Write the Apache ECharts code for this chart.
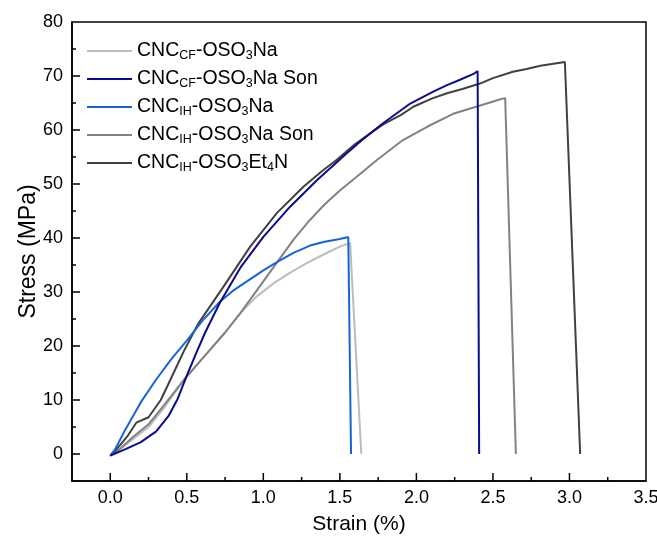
<!DOCTYPE html>
<html>
<head>
<meta charset="utf-8">
<script src="https://cdn.jsdelivr.net/npm/echarts@6/dist/echarts.min.js"></script>
<style>
html,body{margin:0;padding:0;background:#fff;}
#chart{width:657px;height:536px;}
</style>
</head>
<body>
<div id="chart"></div>
<script>
// Series names (legend labels built with rich-text subscripts)
const seriesNames = [
  'CNC_CF-OSO3Na',
  'CNC_CF-OSO3Na Son',
  'CNC_IH-OSO3Na',
  'CNC_IH-OSO3Na Son',
  'CNC_IH-OSO3Et4N'
];
const seriesColors = ['#bdbdbd', '#0b0b8f', '#1565d8', '#828282', '#404040'];

// [strain %, stress MPa]
const cfNa = [[0,-0.3],[0.05,0.6],[0.15,2.8],[0.25,5],[0.35,8.5],[0.48,13.7],[0.63,18.6],[0.75,22.5],[0.85,26.1],[0.95,29],[1.066,31.6],[1.17,33.5],[1.28,35.3],[1.39,36.9],[1.5,38.4],[1.567,39.1],[1.64,0]];
const cfNaSon = [[0,-0.3],[0.1,0.9],[0.2,2.2],[0.3,4.2],[0.38,7.0],[0.44,10.2],[0.5,14.5],[0.56,18.6],[0.62,22.5],[0.716,28],[0.85,34.5],[1.0,40.2],[1.175,45.8],[1.35,50.7],[1.545,55.7],[1.66,58.5],[1.78,61.2],[1.96,64.9],[2.11,67.1],[2.2,68.3],[2.285,69.3],[2.38,70.5],[2.40,70.9],[2.41,0]];
const ihNa = [[0,-0.3],[0.03,0.8],[0.1,4.6],[0.2,9.6],[0.3,13.8],[0.4,17.6],[0.5,21],[0.6,24.6],[0.716,28.2],[0.8,30.2],[0.91,32.3],[1.0,34],[1.1,35.7],[1.2,37.3],[1.305,38.6],[1.4,39.3],[1.5,39.8],[1.555,40.2],[1.573,0]];
const ihNaSon = [[0,-0.3],[0.05,0.6],[0.15,3.2],[0.25,5.5],[0.35,9],[0.48,13.7],[0.63,18.6],[0.75,22.5],[0.85,26.1],[0.96,30.4],[1.1,35.9],[1.2,39.8],[1.3,43.2],[1.4,46.2],[1.5,48.8],[1.63,51.8],[1.74,54.4],[1.91,58.1],[2.07,60.6],[2.24,63],[2.39,64.3],[2.56,65.8],[2.58,65.9],[2.65,0]];
const ihEt4N = [[0,-0.3],[0.03,0.5],[0.11,3.2],[0.17,5.8],[0.25,6.8],[0.33,10.0],[0.392,13.7],[0.48,19],[0.576,24.2],[0.74,31],[0.914,38.4],[1.088,44.6],[1.262,49.5],[1.38,52.3],[1.48,54.5],[1.6,57.4],[1.78,61.0],[1.9,62.8],[1.98,64.3],[2.1,65.8],[2.2,66.8],[2.3,67.6],[2.415,68.6],[2.5,69.6],[2.63,70.8],[2.72,71.3],[2.81,71.9],[2.97,72.6],[3.07,0]];
const seriesData = [cfNa, cfNaSon, ihNa, ihNaSon, ihEt4N];

// axis ranges, label step and tick positions
const xRange = [-0.25, 3.5];
const yRange = [-5, 80];
const xLabelStep = 0.5;
const yLabelStep = 10;
const xMajorTicks = [0, 0.5, 1.0, 1.5, 2.0, 2.5, 3.0];
const xMinorTicks = [0.25, 0.75, 1.25, 1.75, 2.25, 2.75, 3.25];
const yMajorTicks = [0, 10, 20, 30, 40, 50, 60, 70];
const yMinorTicks = [5, 15, 25, 35, 45, 55, 65, 75];

const FONT = '"Liberation Sans", Arial, sans-serif';

function legendRich(name) {
  const m = name.match(/^CNC_(CF|IH)-OSO3(Na|Et4N)(.*)$/);
  let s = '{n|CNC}{s|' + m[1] + '}{n|-OSO}{s|3}';
  if (m[2] === 'Et4N') s += '{n|Et}{s|4}{n|N}';
  else s += '{n|Na}';
  if (m[3]) s += '{n|' + m[3] + '}';
  return s;
}
function onStep(v, step) {
  const r = v / step;
  return Math.abs(r - Math.round(r)) < 1e-6;
}

// inward tick marks drawn through the axes' own scales
function tickSeries(values, dir, len) {
  return {
    type: 'custom', silent: true, clip: false, z: 10,
    data: values.map(v => dir === 'x' ? [v, yRange[0]] : [xRange[0], v]),
    renderItem: (params, api) => {
      const p = api.coord([api.value(0), api.value(1)]);
      const shape = dir === 'x'
        ? {x1: p[0], y1: p[1], x2: p[0], y2: p[1] - len}
        : {x1: p[0], y1: p[1], x2: p[0] + len, y2: p[1]};
      return {type: 'line', shape: shape, style: {stroke: '#000', lineWidth: 1.5}};
    }
  };
}

const chart = echarts.init(document.getElementById('chart'), null, {renderer: 'canvas'});
chart.setOption({
  animation: false,
  backgroundColor: '#fff',
  grid: {left: 72, right: 11, top: 22, bottom: 55, show: true, borderColor: '#000', borderWidth: 1.5,
         backgroundColor: 'transparent', containLabel: false, outerBoundsMode: 'none'},
  legend: {
    orient: 'vertical', left: 87, top: 41, padding: 0, itemWidth: 45, itemHeight: 10, itemGap: 6.5,
    icon: 'path://M0,4L45,4L45,6L0,6Z',
    data: seriesNames.map((n, i) => ({name: n, itemStyle: {color: seriesColors[i]}})),
    formatter: legendRich,
    textStyle: {
      fontFamily: FONT, color: '#000',
      rich: {
        n: {fontFamily: FONT, fontSize: 19.5, color: '#000', lineHeight: 23, verticalAlign: 'middle'},
        s: {fontFamily: FONT, fontSize: 12.5, color: '#000', lineHeight: 12, verticalAlign: 'bottom'}
      }
    }
  },
  xAxis: {
    type: 'value', min: xRange[0], max: xRange[1], position: 'bottom',
    minInterval: xLabelStep, maxInterval: xLabelStep, splitNumber: 7,
    name: 'Strain (%)', nameLocation: 'middle', nameGap: 33, nameMoveOverlap: false,
    nameTextStyle: {fontFamily: FONT, fontSize: 21, color: '#000'},
    axisLine: {show: true, onZero: false, lineStyle: {color: '#000', width: 1.5}},
    axisTick: {show: false},
    axisLabel: {formatter: v => onStep(v, xLabelStep) ? v.toFixed(1) : '', fontFamily: FONT, fontSize: 18, color: '#000', margin: 8},
    splitLine: {show: false}
  },
  yAxis: {
    type: 'value', min: yRange[0], max: yRange[1], position: 'left',
    minInterval: yLabelStep, maxInterval: yLabelStep, splitNumber: 8,
    name: 'Stress (MPa)', nameLocation: 'middle', nameGap: 32, nameMoveOverlap: false,
    nameTextStyle: {fontFamily: FONT, fontSize: 23, color: '#000'},
    axisLine: {show: true, onZero: false, lineStyle: {color: '#000', width: 1.5}},
    axisTick: {show: false},
    axisLabel: {formatter: v => onStep(v, yLabelStep) ? String(v) : '', fontFamily: FONT, fontSize: 18, color: '#000', margin: 9},
    splitLine: {show: false}
  },
  series: seriesNames.map((n, i) => ({
    name: n, type: 'line', data: seriesData[i],
    showSymbol: false, symbol: 'none', smooth: false,
    lineStyle: {color: seriesColors[i], width: 2}, itemStyle: {color: seriesColors[i]},
    z: [1, 5, 4, 2, 3][i]
  })).concat([
    tickSeries(xMajorTicks, 'x', 8),
    tickSeries(xMinorTicks, 'x', 4),
    tickSeries(yMajorTicks, 'y', 8),
    tickSeries(yMinorTicks, 'y', 4)
  ])
});
</script>
</body>
</html>
